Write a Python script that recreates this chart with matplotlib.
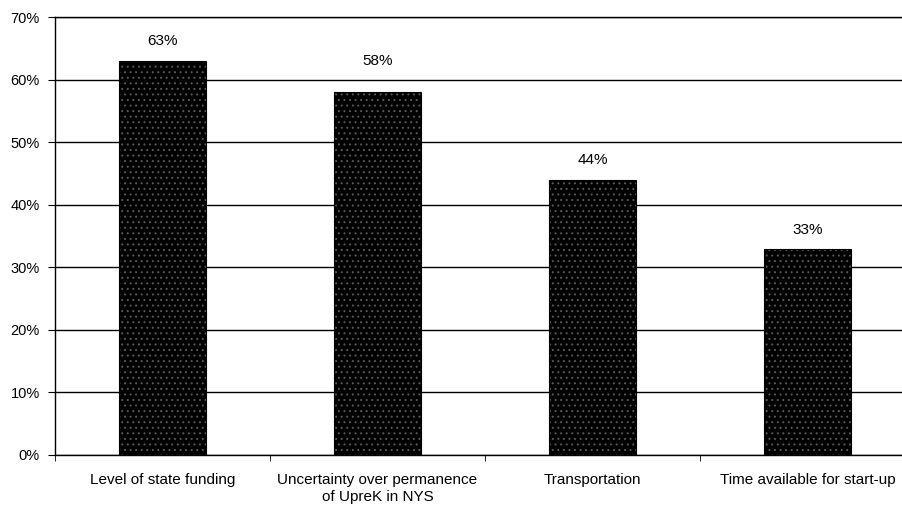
import matplotlib
matplotlib.use("Agg")
import matplotlib.pyplot as plt
import numpy as np

categories = ["Level of state funding",
              "Uncertainty over permanence\nof UpreK in NYS",
              "Transportation",
              "Time available for start-up"]
values = [63, 58, 44, 33]
value_labels = ["63%", "58%", "44%", "33%"]
y_ticks = [0, 10, 20, 30, 40, 50, 60, 70]
y_tick_labels = ["0%", "10%", "20%", "30%", "40%", "50%", "60%", "70%"]

label_offsets = [9, 17, 9, 8]  # points above bar (style)

plt.rcParams['font.family'] = ['Liberation Sans', 'DejaVu Sans']
plt.rcParams['hatch.linewidth'] = 0.7

fig = plt.figure(figsize=(9.02, 5.07), dpi=100)
ax = fig.add_axes([55/902, 52/507, 860/902, 438/507])

x = np.arange(len(categories))
ax.set_axisbelow(True)
ax.yaxis.grid(True, color='black', linewidth=1.0)
ax.bar(x, values, width=0.405, color='#000000', edgecolor='#5a5a5a',
       hatch='...', linewidth=0, zorder=2)
ax.bar(x, values, width=0.405, fill=False, edgecolor='black', linewidth=0.8, zorder=3)

for xi, v, lab, off in zip(x, values, value_labels, label_offsets):
    ax.annotate(lab, (xi, v), xytext=(0, off), textcoords='offset points',
                ha='center', va='bottom', fontsize=11)

ax.set_xlim(-0.5, len(categories) - 0.5)
ax.set_ylim(0, 70)
ax.set_yticks(y_ticks)
ax.set_yticklabels(y_tick_labels, fontsize=10.5)
ax.set_xticks(x)
ax.set_xticklabels(categories, fontsize=11, linespacing=1.3)
ax.tick_params(axis='x', length=0, pad=13)
ax.set_xticks(np.arange(-0.5, len(categories)), minor=True)
ax.tick_params(axis='x', which='minor', length=4, direction='out', color='black')
ax.tick_params(axis='y', length=5, direction='out', color='black', pad=6)

ax.spines['right'].set_visible(False)
for s in ['left', 'bottom', 'top']:
    ax.spines[s].set_color('black')
    ax.spines[s].set_linewidth(1.0)

fig.savefig("out.png", dpi=100)
